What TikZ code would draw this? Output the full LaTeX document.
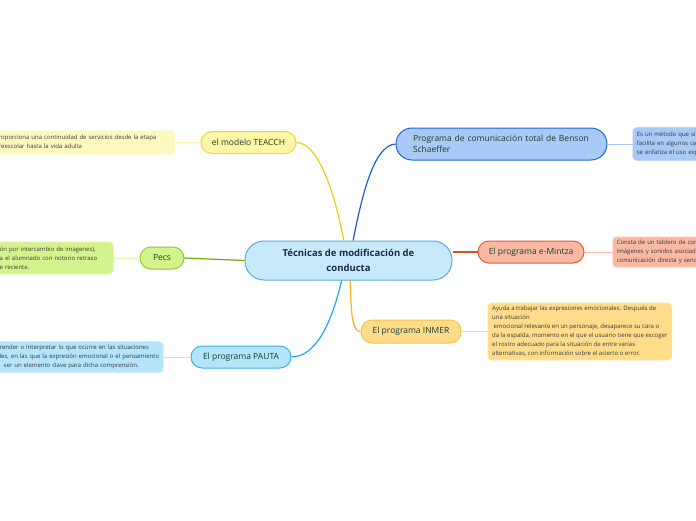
\documentclass[tikz,border=0pt]{standalone}
\usepackage{fontspec}
\setmainfont{Open Sans}
\usepackage{xcolor}
\usetikzlibrary{positioning}
\definecolor{cNavy}{HTML}{1B2A4E}
\definecolor{cLbl}{HTML}{173F2C}
\definecolor{cDesc}{HTML}{3A3A3A}
\definecolor{cRoot}{HTML}{C7E9FA}
\definecolor{cRootB}{HTML}{5AACDE}
\definecolor{cTea}{HTML}{FFF7A6}
\definecolor{cTeaB}{HTML}{F0D836}
\definecolor{cTeaL}{HTML}{EBCD12}
\definecolor{cPec}{HTML}{D3F48C}
\definecolor{cPecB}{HTML}{92C73A}
\definecolor{cPecL}{HTML}{6EAA10}
\definecolor{cPau}{HTML}{B3E5FB}
\definecolor{cPauB}{HTML}{3CB2EC}
\definecolor{cPauL}{HTML}{22A9E8}
\definecolor{cBen}{HTML}{A9C9F8}
\definecolor{cBenB}{HTML}{1F68D6}
\definecolor{cBenL}{HTML}{1D5ECB}
\definecolor{cMin}{HTML}{F9B9A2}
\definecolor{cMinB}{HTML}{E85B30}
\definecolor{cMinL}{HTML}{E04E20}
\definecolor{cInm}{HTML}{FFDC8A}
\definecolor{cInmB}{HTML}{F7C244}
\definecolor{cInmL}{HTML}{F5B522}
\tikzset{
  root/.style={draw=cRootB, fill=cRoot, line width=1pt, rounded corners=19pt,
               minimum width=207pt, minimum height=39pt, inner sep=0pt, align=center,
               text=cNavy, font=\fontsize{9.5}{15}\selectfont\bfseries},
  branch/.style={line width=1pt, rounded corners=11pt, minimum height=22pt,
                 inner sep=0pt, text=cLbl, font=\fontsize{8.5}{11}\selectfont},
  desc/.style={line width=0.6pt, rounded corners=4pt, inner xsep=4pt, inner ysep=3pt,
               align=left, text=cDesc, font=\fontsize{6}{9}\selectfont},
  link/.style={line width=1.2pt},
  leaf/.style={line width=1pt}
}
\begin{document}
\begin{tikzpicture}[x=1pt,y=-1pt]
\useasboundingbox[fill=white] (0,0) rectangle (696,520);
% ----- centre -----
\node[root] (root) at (348.5,260.5) {Técnicas de modificación de\\conducta};
% ----- left branches -----
\node[branch, fill=cTea, draw=cTeaB, minimum width=95pt] (teacch) at (248.5,142.5) {el modelo TEACCH};
\node[desc, fill=cTea!70, draw=cTea, text width=175pt, minimum height=23pt, left=26pt of teacch] (teacchd)
  {proporciona una continuidad de servicios desde la etapa\\preescolar hasta la vida adulta};
\node[branch, fill=cPec, draw=cPecB, minimum width=44pt] (pecs) at (162,258) {Pecs};
\node[desc, fill=cPec, draw=cPec!70, text width=109.5pt, minimum height=32pt, left=26pt of pecs] (pecsd)
  {ón por intercambio de imagenes),\\a el alumnado con notorio retraso\\e reciente.};
\node[branch, fill=cPau, draw=cPauB, minimum width=100pt] (pauta) at (241,357) {El programa PAUTA};
\node[desc, fill=cPau, draw=cPau!70, text width=159.5pt, minimum height=31pt, left=27pt of pauta] (pautad)
  {\mbox{render o interpretar lo que ocurre en las situaciones}\\\mbox{les, en las que la expresión emocional o el pensamiento}\\\hspace*{4pt}ser un elemento clave para dicha comprensión.};
% ----- right branches -----
\node[branch, fill=cBen, draw=cBenB, minimum width=211pt, minimum height=32pt, rounded corners=16pt,
      inner xsep=17pt, text width=177pt, align=left] (benson) at (501.5,144)
  {Programa de comunicación total de Benson\\Schaeffer};
\node[desc, fill=cBen, draw=cBen!80, text width=90pt, minimum height=33pt, right=25pt of benson] (bensond)
  {Es un método que si\\facilita en algunos ca\\se enfatiza el uso exp};
\node[branch, fill=cMin, draw=cMinB, minimum width=106pt] (emintza) at (531,252) {El programa e-Mintza};
\node[desc, fill=cMin, draw=cMin!80, text width=100pt, minimum height=30pt, right=28pt of emintza] (emintzad)
  {Consta de un tablero de com\\imágenes y sonidos asociado\\comunicación directa y senci};
\node[branch, fill=cInm, draw=cInmB, minimum width=100pt, minimum height=23pt] (inmer) at (411,331.5) {El programa INMER};
\node[desc, fill=cInm, draw=cInm!80, minimum width=184pt, minimum height=57pt, right=26pt of inmer] (inmerd)
  {Ayuda a trabajar las expresiones emocionales. Después de\\una situación\\\hspace*{1.5pt}emocional relevante en un personaje, desaparece su cara o\\da la espalda, momento en el que el usuario tiene que escoger\\el rostro adecuado para la situación de entre varias\\alternativas, con información sobre el acierto o error.};
% ----- links -----
\draw[link, cTeaL] (teacch.east) .. controls (318,143) and (334,190) .. (root.103);
\draw[link, cBenL] (root.77) .. controls (362,195) and (374,145) .. (benson.west);
\draw[link, cPecL] (root.west) -- (pecs.east);
\draw[link, cMinL] (root.east |- emintza.west) -- (emintza.west);
\draw[link, cPauL] (root.251) .. controls (332,322) and (316,357) .. (pauta.east);
\draw[link, cInmL] (root.275) .. controls (351,318) and (353,332) .. (inmer.west);
\draw[leaf, cTea] (teacch) -- (teacchd);
\draw[leaf, cPec!70] (pecs) -- (pecsd);
\draw[leaf, cPau] (pauta) -- (pautad);
\draw[leaf, cBen] (benson) -- (bensond);
\draw[leaf, cMin] (emintza) -- (emintzad);
\draw[leaf, cInm] (inmer) -- (inmerd);
\end{tikzpicture}
\end{document}
